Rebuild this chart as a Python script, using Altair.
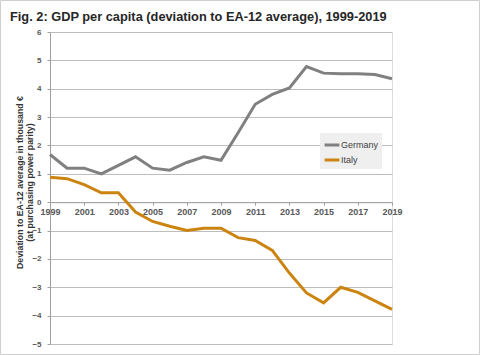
import altair as alt
import pandas as pd

years = list(range(1999, 2020))
germany = [1.68, 1.2, 1.2, 1.0, 1.3, 1.6, 1.2, 1.13, 1.4, 1.6, 1.48, 2.45, 3.45, 3.8, 4.03, 4.78, 4.55, 4.53, 4.53, 4.5, 4.35]
italy = [0.88, 0.83, 0.62, 0.33, 0.33, -0.35, -0.68, -0.85, -1.0, -0.92, -0.92, -1.25, -1.35, -1.7, -2.5, -3.2, -3.55, -3.0, -3.18, -3.48, -3.78]
series = ["Germany", "Italy"]
colors = ["#808080", "#CC8410"]
x_labels = list(range(1999, 2020, 2))
y_ticks = list(range(-5, 7))

rows = []
for y, g, i in zip(years, germany, italy):
    rows.append({"year": y, "country": "Germany", "value": g})
    rows.append({"year": y, "country": "Italy", "value": i})
df = pd.DataFrame(rows)

W, H = 342, 312
label_font = "Liberation Sans"

lines = alt.Chart(df).mark_line(strokeWidth=3).encode(
    x=alt.X("year:Q",
            scale=alt.Scale(domain=[1999, 2019], nice=False, zero=False),
            axis=alt.Axis(values=x_labels, format="d", title=None, grid=False,
                          offset=-(H - H * 6 / 11), domainColor="#a0a0a0",
                          tickColor="#a0a0a0", tickSize=3, labelFontSize=9,
                          labelFontWeight="bold", labelColor="#595959",
                          labelFont=label_font, labelPadding=2,
                          labelFlush=False, labelOverlap=False)),
    y=alt.Y("value:Q",
            scale=alt.Scale(domain=[-5, 6], nice=False),
            axis=alt.Axis(values=y_ticks, title=["Deviation to EA-12  average in thousand €",
                                                 "(at purchasing  power parity)"],
                          gridColor="#bdbdbd", gridWidth=1, domainColor="#a0a0a0",
                          tickColor="#a0a0a0", tickSize=3, labelFontSize=8,
                          labelFontWeight="bold", labelColor="#595959",
                          labelFont=label_font, labelPadding=6,
                          titleFont=label_font, titleFontSize=8.8,
                          titleFontWeight="bold", titleColor="#333333",
                          titlePadding=-3, titleY=150)),
    color=alt.Color("country:N",
                    scale=alt.Scale(domain=series, range=colors),
                    legend=alt.Legend(title=None, orient="none", legendX=270, legendY=101,
                                      symbolType="stroke", symbolStrokeWidth=3,
                                      symbolSize=220, labelFontSize=9,
                                      labelFont=label_font, labelColor="#404040",
                                      fillColor="#efefef", padding=3, rowPadding=0,
                                      labelOffset=0)),
)

frame = alt.Chart(pd.DataFrame({"a": [0]})).mark_rect(
    fill=None, stroke="#cfcfcf", strokeWidth=1
).encode(
    x=alt.value(-49.5), x2=alt.value(429.5), y=alt.value(-31.5), y2=alt.value(322.5)
)

chart = alt.layer(frame, lines).properties(
    width=W, height=H,
    title=alt.TitleParams("Fig. 2: GDP per capita (deviation to EA-12 average), 1999-2019",
                          anchor="start", frame="group", dx=-40, fontSize=12.8,
                          fontWeight="bold", font=label_font, color="#262626", offset=-24),
    padding={"left": 50, "top": 32, "right": 88, "bottom": 11},
    autosize=alt.AutoSizeParams(type="none"),
).configure_view(stroke=None).configure(background="white")

chart.save("out.html", embed_options={"renderer": "svg", "actions": False})
